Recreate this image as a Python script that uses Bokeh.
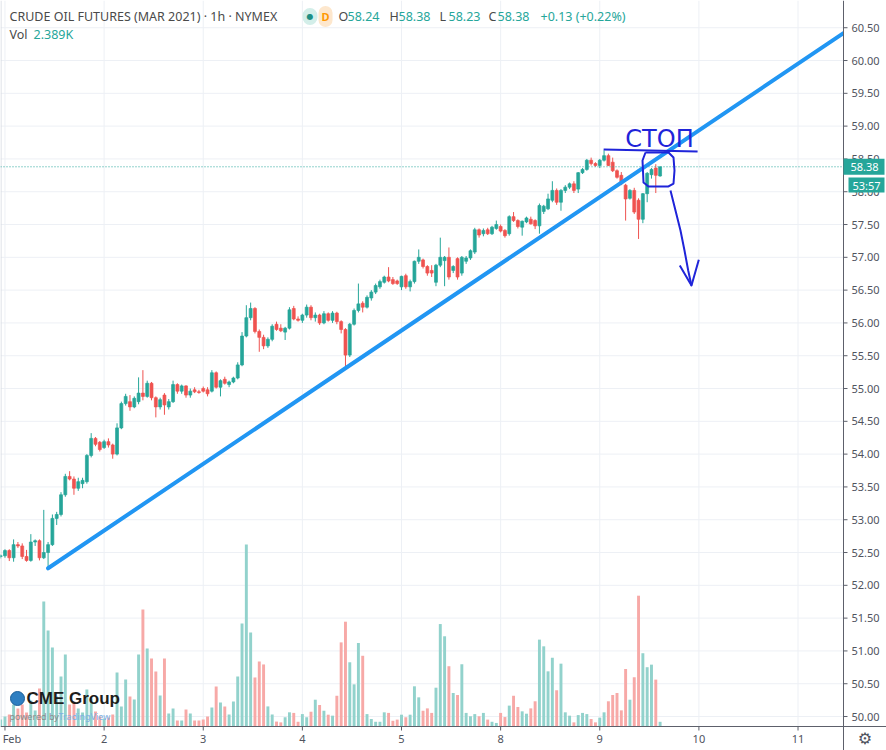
import numpy as np
from bokeh.plotting import figure
from bokeh.models import Range1d, Label, ColumnDataSource
from bokeh.core.properties import value
from bokeh.embed import file_html
from bokeh.resources import INLINE

# ---------------- data (hourly bars, CL Mar 2021) ----------------
open_ = [52.44, 52.45, 52.53, 52.42, 52.62, 52.60, 52.44, 52.38, 52.66, 52.68, 52.42, 52.50, 52.62, 53.02, 53.08, 53.38, 53.66, 53.62, 53.48, 53.55, 53.58, 53.98, 54.24, 54.18,
         54.10, 54.19, 54.14, 54.00, 54.40, 54.77, 54.80, 54.72, 54.80, 54.93, 54.88, 55.08, 54.86, 54.72, 54.90, 54.72, 54.80, 55.06, 54.96, 55.04, 54.90, 54.98, 54.95,
         55.00, 54.98, 54.96, 55.24, 55.02, 55.14, 55.06, 55.10, 55.16, 55.36, 55.80, 56.08, 56.22, 55.87, 55.78, 55.65, 55.75, 55.98, 55.92, 55.86, 55.92, 56.22, 56.06,
         56.04, 56.12, 56.24, 56.08, 56.12, 56.00, 56.14, 56.04, 56.15, 56.02, 55.90, 55.51, 55.98, 56.19, 56.30, 56.24, 56.38, 56.47, 56.55, 56.62, 56.70, 56.66, 56.64,
         56.55, 56.72, 56.55, 56.63, 56.94, 56.96, 56.86, 56.80, 56.62, 56.88, 56.95, 57.00, 56.80, 56.98, 56.76, 56.94, 56.99, 57.08, 57.42, 57.36, 57.42, 57.36, 57.44,
         57.47, 57.41, 57.36, 57.62, 57.56, 57.46, 57.54, 57.58, 57.56, 57.48, 57.70, 57.74, 57.87, 58.02, 57.84, 58.02, 58.07, 58.12, 58.04, 58.29, 58.34, 58.48, 58.43,
         58.40, 58.48, 58.55, 58.45, 58.32, 58.25, 58.10, 57.90, 58.02, 57.87, 57.58, 57.97, 58.26, 58.36, 58.24]
high_ = [52.47, 52.55, 52.55, 52.70, 52.66, 52.64, 52.54, 52.78, 52.70, 52.70, 53.15, 52.66, 53.08, 53.12, 53.42, 53.70, 53.74, 53.66, 53.64, 53.64, 54.00, 54.32, 54.26, 54.20,
         54.22, 54.24, 54.16, 54.47, 54.80, 54.92, 54.90, 54.88, 55.17, 55.28, 55.12, 55.10, 54.88, 54.86, 54.93, 54.84, 55.12, 55.08, 55.06, 55.05, 55.00, 55.02, 54.98,
         55.03, 55.02, 55.28, 55.26, 55.14, 55.18, 55.12, 55.18, 55.40, 55.86, 56.27, 56.31, 56.24, 55.90, 55.82, 55.78, 55.98, 56.02, 55.98, 55.94, 56.24, 56.26, 56.10,
         56.14, 56.28, 56.27, 56.16, 56.14, 56.18, 56.16, 56.18, 56.17, 56.04, 55.92, 56.00, 56.22, 56.60, 56.33, 56.42, 56.50, 56.60, 56.66, 56.72, 56.85, 56.70, 56.66,
         56.72, 56.75, 56.66, 56.95, 57.12, 56.98, 56.88, 56.88, 56.90, 57.30, 57.02, 57.15, 56.88, 57.00, 57.02, 57.02, 57.12, 57.45, 57.44, 57.44, 57.45, 57.48, 57.56,
         57.50, 57.43, 57.64, 57.69, 57.58, 57.56, 57.62, 57.62, 57.58, 57.82, 57.80, 57.97, 58.16, 58.05, 58.04, 58.10, 58.14, 58.16, 58.30, 58.36, 58.50, 58.52, 58.45,
         58.50, 58.63, 58.58, 58.52, 58.34, 58.30, 58.12, 58.04, 58.06, 57.90, 57.98, 58.30, 58.36, 58.42, 58.38]
low_ = [52.41, 52.42, 52.37, 52.36, 52.57, 52.40, 52.36, 52.36, 52.60, 52.38, 52.40, 52.27, 52.60, 52.92, 53.05, 53.35, 53.60, 53.38, 53.44, 53.48, 53.55, 53.95, 54.12, 54.04,
        54.08, 54.10, 53.93, 53.98, 54.38, 54.74, 54.66, 54.70, 54.76, 54.82, 54.86, 54.82, 54.56, 54.68, 54.60, 54.68, 54.78, 54.92, 54.92, 54.86, 54.86, 54.93, 54.92,
        54.94, 54.88, 54.94, 55.00, 54.88, 55.06, 55.02, 55.08, 55.14, 55.34, 55.78, 56.04, 55.84, 55.56, 55.60, 55.62, 55.72, 55.88, 55.86, 55.74, 55.90, 56.04, 56.02,
        56.00, 56.08, 56.04, 56.02, 55.97, 55.98, 56.02, 56.00, 55.98, 55.84, 55.33, 55.48, 55.96, 56.16, 56.16, 56.22, 56.34, 56.44, 56.52, 56.60, 56.62, 56.58, 56.58,
        56.50, 56.52, 56.48, 56.60, 56.90, 56.83, 56.72, 56.70, 56.56, 56.85, 56.56, 56.66, 56.76, 56.66, 56.72, 56.90, 56.96, 57.05, 57.30, 57.32, 57.34, 57.34, 57.42,
        57.38, 57.30, 57.33, 57.54, 57.44, 57.33, 57.52, 57.50, 57.43, 57.36, 57.66, 57.72, 57.84, 57.80, 57.71, 57.98, 58.04, 57.98, 57.98, 58.27, 58.32, 58.40, 58.38,
        58.36, 58.46, 58.39, 58.30, 58.20, 58.10, 57.56, 57.88, 57.66, 57.28, 57.52, 57.84, 58.20, 57.98, 58.23]
close_ = [52.45, 52.53, 52.42, 52.62, 52.60, 52.44, 52.38, 52.66, 52.68, 52.42, 52.50, 52.62, 53.02, 53.08, 53.38, 53.66, 53.62, 53.48, 53.58, 53.60, 53.98, 54.24, 54.15, 54.07,
          54.19, 54.14, 54.00, 54.40, 54.77, 54.88, 54.72, 54.85, 54.93, 54.88, 55.08, 54.86, 54.72, 54.83, 54.75, 54.80, 55.06, 54.96, 55.04, 54.90, 54.96, 54.95, 54.94,
          54.96, 54.92, 55.24, 55.02, 55.12, 55.08, 55.10, 55.16, 55.36, 55.80, 56.08, 56.22, 55.87, 55.78, 55.65, 55.75, 55.95, 55.90, 55.88, 55.92, 56.20, 56.06, 56.04,
          56.12, 56.24, 56.08, 56.12, 56.00, 56.14, 56.04, 56.15, 56.02, 55.90, 55.51, 55.98, 56.19, 56.29, 56.24, 56.39, 56.47, 56.57, 56.63, 56.70, 56.64, 56.60, 56.60,
          56.71, 56.55, 56.63, 56.94, 57.00, 56.86, 56.76, 56.76, 56.88, 57.00, 57.00, 56.70, 56.86, 56.70, 57.00, 56.99, 57.10, 57.42, 57.34, 57.41, 57.36, 57.46, 57.50,
          57.40, 57.33, 57.62, 57.56, 57.47, 57.55, 57.60, 57.51, 57.48, 57.79, 57.78, 57.89, 58.02, 57.84, 58.02, 58.07, 58.12, 58.02, 58.29, 58.34, 58.48, 58.43, 58.40,
          58.48, 58.55, 58.40, 58.32, 58.22, 58.12, 57.89, 58.02, 57.69, 57.58, 57.97, 58.28, 58.34, 58.25, 58.38]
volume_k = [3.6, 5.1, 6.1, 11.2, 9.1, 11.2, 7.1, 13.2, 8.1, 19.3, 63.5, 48.7, 40.1, 15.2, 25.4, 36.5, 11.2, 12.7, 9.1, 7.1, 18.8, 14.2, 7.6, 5.1,
            4.1, 4.6, 6.1, 27.4, 10.2, 23.9, 15.2, 13.7, 36.5, 59.4, 39.6, 34.5, 27.9, 15.7, 34.5, 6.6, 9.1, 3.0, 3.0, 8.6, 6.6, 3.0, 3.0,
            3.6, 5.1, 9.6, 20.3, 12.2, 10.2, 6.1, 12.7, 25.4, 52.3, 92.4, 47.7, 24.9, 33.0, 31.5, 10.2, 6.1, 2.5, 2.1, 4.7, 7.2, 6.9, 2.4,
            6.3, 4.7, 7.5, 13.6, 10.9, 8.0, 6.0, 5.5, 15.6, 42.7, 53.2, 32.6, 21.4, 42.4, 35.9, 6.3, 3.8, 2.4, 2.4, 7.2, 6.9, 2.9, 3.5,
            6.0, 4.7, 6.0, 20.4, 14.8, 8.0, 9.2, 6.9, 19.7, 52.0, 45.8, 30.6, 17.0, 16.0, 31.6, 6.9, 5.2, 6.3, 5.2, 6.9, 3.5, 2.4, 1.8,
            6.9, 4.8, 10.6, 15.6, 9.9, 7.7, 6.5, 9.2, 12.8, 44.1, 40.7, 28.0, 34.9, 18.4, 31.9, 7.2, 5.5, 2.1, 5.8, 6.9, 6.3, 3.8, 2.1,
            4.5, 7.2, 12.8, 16.0, 17.0, 8.2, 29.2, 13.6, 25.0, 66.4, 37.2, 30.1, 31.4, 23.8, 2.389]

day_ticks = [0, 23, 46, 69, 92, 115, 138, 161, 184]
day_labels = ["Feb", "2", "3", "4", "5", "8", "9", "10", "11"]
price_ticks = [50.0, 50.5, 51.0, 51.5, 52.0, 52.5, 53.0, 53.5, 54.0, 54.5, 55.0,
               55.5, 56.0, 56.5, 57.0, 57.5, 58.0, 58.5, 59.0, 59.5, 60.0, 60.5]
last_price = 58.38
countdown = "53:57"
title = "CRUDE OIL FUTURES (MAR 2021) · 1h · NYMEX"
ohlc_items = [("O", "58.24"), ("H", "58.38"), ("L", "58.23"), ("C", "58.38")]
change_text = "+0.13 (+0.22%)"
vol_text = "2.389K"

# trend line anchors (bar index, price) - drawn as a ray to the right
trend_anchor_x = [10, 79]
trend_anchor_y = [52.26, 55.31]

# hand-drawn annotation (bar index, price)
stop_text = "СТОП"
stop_line_x = [138.9, 160.7]
stop_line_y = [58.644, 58.613]
box_x = [148.61, 153.95, 155.11, 155.34, 155.11, 153.95, 149.31, 148.15, 147.92, 148.61]
box_y = [58.598, 58.598, 58.522, 58.324, 58.125, 58.080, 58.080, 58.141, 58.476, 58.598]
arrow_x = [154.41, 155.57, 156.73, 157.66, 158.52, 159.28]
arrow_y = [58.019, 57.714, 57.409, 57.104, 56.799, 56.571]
head_x = [156.57, 159.28, 160.98]
head_y = [56.875, 56.571, 56.962]

# ---------------- layout ----------------
W, H = 886, 750          # canvas
PW, PH = 843, 726        # price pane (right of it: price scale, below it: time scale)
BAR_PX = 4.31            # px per bar
X0 = -1.04
Y1 = 60.915
PX_PER_USD = 65.6
VOL_PX_PER_K = 1.97

def dx(px):
    return X0 + px / BAR_PX

def dy(py):
    return Y1 - py / PX_PER_USD

UP, DOWN = "#26a69a", "#ef5350"
VOL_UP, VOL_DOWN = "#92d2cc", "#f7a9a7"
INK = "#1f24d9"
AXIS_TXT = "#50535e"
AXIS_LINE = "#5d606b"
GRID = "#edf0f5"
FONT = "Noto Sans"

o = np.array(open_); c = np.array(close_); h = np.array(high_); l = np.array(low_)
x = np.arange(len(c)) - 1
up = c >= o
src = ColumnDataSource(dict(
    x=x, high=h, low=l,
    top=np.maximum(o, c), bottom=np.minimum(o, c),
    color=[UP if u else DOWN for u in up],
    vcolor=[VOL_UP if u else VOL_DOWN for u in up],
    vol=volume_k,
))

p = figure(width=W, height=H, x_range=Range1d(dx(0), dx(W)), y_range=Range1d(dy(H), dy(0)),
           x_axis_type=None, y_axis_type=None, output_backend="svg", toolbar_location=None,
           min_border=0, background_fill_color="white", border_fill_color="white")
p.outline_line_color = None
p.extra_y_ranges = {"vol": Range1d(-(H - PH) / VOL_PX_PER_K, PH / VOL_PX_PER_K)}

# grid
p.segment(x0=day_ticks, y0=dy(0), x1=day_ticks, y1=dy(PH), line_color=GRID, line_width=1)
p.segment(x0=dx(0), y0=price_ticks, x1=dx(PW), y1=price_ticks, line_color=GRID, line_width=1)
p.segment(x0=[dx(0.5)], y0=[dy(0)], x1=[dx(0.5)], y1=[dy(PH)], line_color="#d6d9e1", line_width=1)

# volume
p.vbar(x="x", width=0.68, top="vol", bottom=0, y_range_name="vol",
       fill_color="vcolor", line_color=None, source=src)
# candles
p.segment(x0="x", y0="low", x1="x", y1="high", line_color="color", line_width=1, source=src)
p.vbar(x="x", width=0.68, top="top", bottom="bottom", fill_color="color",
       line_color="color", line_width=0.7, source=src)

# last price line
p.line([dx(0), dx(PW)], [last_price, last_price], line_color=UP, line_dash="1 2", line_width=1)

# trend line (ray to the price scale)
slope = (trend_anchor_y[1] - trend_anchor_y[0]) / (trend_anchor_x[1] - trend_anchor_x[0])
tx_end = dx(PW)
p.line([trend_anchor_x[0], tx_end],
       [trend_anchor_y[0], trend_anchor_y[0] + slope * (tx_end - trend_anchor_x[0])],
       line_color="#2196f3", line_width=4, line_cap="round")

# hand drawing
p.line(stop_line_x, stop_line_y, line_color=INK, line_width=2)
p.line(box_x, box_y, line_color=INK, line_width=2, line_join="round")
p.line(arrow_x, arrow_y, line_color=INK, line_width=2, line_join="round")
p.line(head_x, head_y, line_color=INK, line_width=2, line_join="round")
p.text(x=[dx(659)], y=[dy(138)], text=[stop_text], text_color=INK,
       text_font=value("DejaVu Sans"), text_font_size="24px",
       text_align="center", text_baseline="middle")

# ---- price scale (right) and time scale (bottom) ----
p.quad(left=[dx(PW)], right=[dx(W + 2)], top=[dy(-2)], bottom=[dy(H + 2)],
       fill_color="white", line_color=None)
p.quad(left=[dx(-2)], right=[dx(W + 2)], top=[dy(PH)], bottom=[dy(H + 2)],
       fill_color="white", line_color=None)
p.segment(x0=[dx(PW)], y0=[dy(0)], x1=[dx(PW)], y1=[dy(H)], line_color=AXIS_LINE, line_width=1)
p.segment(x0=[dx(0)], y0=[dy(PH)], x1=[dx(W)], y1=[dy(PH)], line_color=AXIS_LINE, line_width=1)
p.segment(x0=dx(PW), y0=price_ticks, x1=dx(PW + 4), y1=price_ticks, line_color=AXIS_LINE, line_width=1)
p.segment(x0=day_ticks, y0=dy(PH), x1=day_ticks, y1=dy(PH + 4), line_color=AXIS_LINE, line_width=1)
p.text(x=dx(PW + 8), y=price_ticks, text=[f"{t:.2f}" for t in price_ticks],
       text_color=AXIS_TXT, text_font=value(FONT), text_font_size="11px",
       text_baseline="middle", text_align="left")
# first label ("Feb") sits at the left edge: nudge it inside the canvas
label_shift = [7] + [0] * (len(day_ticks) - 1)
time_src = ColumnDataSource(dict(x=day_ticks, text=day_labels, xo=label_shift))
p.text(x="x", y=dy(738), text="text", x_offset="xo", source=time_src,
       text_color=AXIS_TXT, text_font=value(FONT), text_font_size="11px",
       text_baseline="middle", text_align="center")

# last price and bar countdown boxes
p.rect(x=[dx(863.5)], y=[last_price], width=41 / BAR_PX, height=16 / PX_PER_USD,
       fill_color=UP, line_color=None)
p.text(x=[dx(864)], y=[last_price], text=[f"{last_price:.2f}"], text_color="white",
       text_font=value(FONT), text_font_size="11px", text_align="center", text_baseline="middle")
p.rect(x=[dx(866)], y=[dy(184.5)], width=36 / BAR_PX, height=15 / PX_PER_USD,
       fill_color=UP, line_color=None)
p.text(x=[dx(866)], y=[dy(184.5)], text=[countdown], text_color="white",
       text_font=value(FONT), text_font_size="11px", text_align="center", text_baseline="middle")

# settings gear
p.text(x=[dx(864.5)], y=[dy(738)], text=["⚙"], text_color=AXIS_TXT,
       text_font=value("DejaVu Sans"), text_font_size="16px",
       text_align="center", text_baseline="middle")

# ---- header legend ----
def hdr(px, py, text, color, **kw):
    p.add_layout(Label(x=px, y=py, x_units="canvas", y_units="canvas", text=text,
                       text_color=color, text_font=kw.pop("font", FONT),
                       text_font_size=kw.pop("size", "12.5px"), text_baseline="middle", **kw))

hdr(9, 16, title, "#4a4a4a")
hdr(302, 16, "●", "#1e8f84", font="DejaVu Sans", size="8px",
    background_fill_color="#d3eee9", padding=4, border_radius=8)
hdr(318, 16, "D", "#ff9800", size="11px", text_font_style="bold",
    background_fill_color="#fde7cd", padding=3, border_radius=8)
ohlc_x = [338, 389, 439, 488]
for (k, v), px in zip(ohlc_items, ohlc_x):
    hdr(px, 16, k, "#4a4a4a")
    hdr(px + 9, 16, v, UP)
hdr(540, 16, change_text, UP)
hdr(9, 34, "Vol", "#4a4a4a")
hdr(33, 34, vol_text, UP)

# CME Group watermark
p.scatter([dx(17)], [dy(698)], size=14, marker="circle", fill_color="#2f7fc1", line_color="#1b5f99")
hdr(26, 698, "CME Group", "#1d1d1b", font="Liberation Sans", size="17px", text_font_style="bold")
hdr(9, 716, "powered by", "#8a8a8a", size="9px")
hdr(58, 716, "TradingView", "#7fb0e3", size="9px")

open("out.html", "w").write(file_html(p, INLINE))
